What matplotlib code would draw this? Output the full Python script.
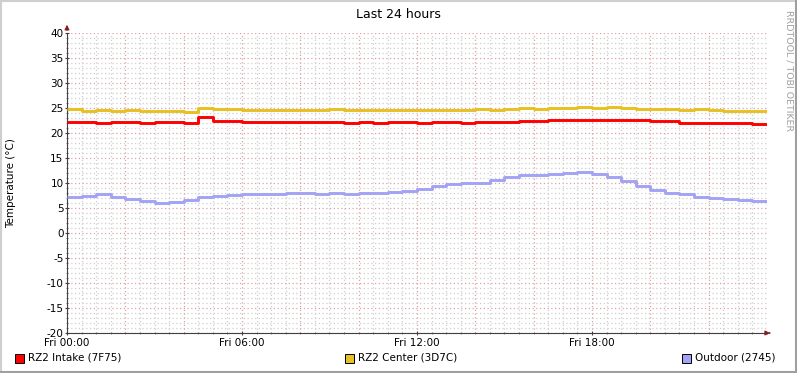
import numpy as np
import matplotlib
matplotlib.use("Agg")
from matplotlib import pyplot as plt
from matplotlib.patches import Rectangle

plt.rcParams["axes.unicode_minus"] = False

# readings every 30 minutes, Fri 00:00 .. Sat 00:00
hours = np.arange(0, 24.01, 0.5)
rz2_intake = [22.2, 22.2, 22.1, 22.2, 22.2, 22.1, 22.2, 22.2, 22.0, 23.2,
              22.5, 22.4, 22.3, 22.3, 22.2, 22.2, 22.2, 22.2, 22.2, 22.1,
              22.2, 22.1, 22.2, 22.2, 22.1, 22.2, 22.2, 22.1, 22.2, 22.2,
              22.3, 22.5, 22.5, 22.6, 22.7, 22.7, 22.7, 22.7, 22.6, 22.6,
              22.5, 22.5, 22.1, 22.0, 22.0, 22.0, 22.0, 21.9, 21.9]
rz2_center = [24.8, 24.5, 24.6, 24.5, 24.6, 24.5, 24.5, 24.5, 24.3, 25.1,
              24.9, 24.8, 24.6, 24.7, 24.6, 24.6, 24.7, 24.6, 24.8, 24.6,
              24.7, 24.6, 24.7, 24.6, 24.6, 24.7, 24.6, 24.7, 24.8, 24.7,
              24.8, 25.0, 24.9, 25.0, 25.1, 25.2, 25.1, 25.2, 25.0, 24.9,
              24.8, 24.8, 24.7, 24.8, 24.6, 24.5, 24.4, 24.5, 24.3]
outdoor = [7.2, 7.5, 7.9, 7.3, 6.8, 6.4, 6.0, 6.2, 6.6, 7.2,
           7.5, 7.7, 7.8, 7.8, 7.9, 8.0, 8.0, 7.9, 8.0, 7.9,
           8.0, 8.1, 8.2, 8.5, 8.9, 9.5, 9.8, 10.0, 10.1, 10.6,
           11.2, 11.6, 11.7, 11.9, 12.1, 12.2, 11.9, 11.3, 10.5, 9.4,
           8.6, 8.0, 7.8, 7.2, 7.0, 6.8, 6.7, 6.4, 6.2]

series = [
    ("RZ2 Intake (7F75)", rz2_intake, "#ff0000"),
    ("RZ2 Center (3D7C)", rz2_center, "#e8c020"),
    ("Outdoor (2745)", outdoor, "#a3a3f5"),
]
xtick_hours = [0, 6, 12, 18]
xtick_labels = ["Fri 00:00", "Fri 06:00", "Fri 12:00", "Fri 18:00"]

W, H = 797, 373
fig = plt.figure(figsize=(W / 100, H / 100), dpi=100)
fig.patch.set_facecolor("white")

# rrdtool style 3D border
fig.add_artist(Rectangle((0, 0), 1, 1, transform=fig.transFigure,
                         fill=False, edgecolor="#cfcfcf", lw=3))
fig.add_artist(Rectangle((0, 0), 1, 2 / H, transform=fig.transFigure,
                         color="#9f9f9f", lw=0))
fig.add_artist(Rectangle((1 - 2 / W, 0), 2 / W, 1, transform=fig.transFigure,
                         color="#9f9f9f", lw=0))

x0, x1, y0, y1 = 67, 767, 33, 333
ax = fig.add_axes([x0 / W, 1 - y1 / H, (x1 - x0) / W, (y1 - y0) / H])
ax.set_xlim(0, 24)
ax.set_ylim(-20, 40)

# grid
for v in np.arange(-20, 41, 1):
    major = v % 5 == 0
    ax.axhline(v, color="#e0a0a0" if major else "#cfcfcf", lw=0.9,
               ls=(0, (1, 2)), zorder=0)
for h in np.arange(0, 24.01, 0.5):
    major = h % 2 == 0
    ax.axvline(h, color="#e0a0a0" if major else "#cfcfcf", lw=0.9,
               ls=(0, (1, 2)), zorder=0)

for name, vals, col in series:
    ax.plot(hours, vals, color=col, lw=2.1, drawstyle="steps-post",
            solid_capstyle="butt", zorder=3)

for s in ["top", "right"]:
    ax.spines[s].set_visible(False)
for s in ["left", "bottom"]:
    ax.spines[s].set_color("#404040")
    ax.spines[s].set_linewidth(0.8)

ax.set_yticks(np.arange(-20, 41, 5))
ax.set_xticks(xtick_hours)
ax.set_xticklabels(xtick_labels)
ax.set_yticks(np.arange(-20, 41, 1), minor=True)
ax.set_xticks(np.arange(0, 24.01, 0.5), minor=True)
ax.tick_params(axis="both", which="major", labelsize=7.5, length=3,
               color="#404040", width=0.8, pad=1, direction="inout")
ax.tick_params(axis="both", which="minor", length=2, color="#808080",
               width=0.6, direction="inout")
ax.tick_params(axis="x", pad=2)

# axis arrows
ax.annotate("", xy=(0, 42.2), xytext=(0, 40), annotation_clip=False,
            arrowprops=dict(arrowstyle="-|>", color="#8b1a1a", lw=0.8,
                            mutation_scale=7))
ax.annotate("", xy=(24.2, -20), xytext=(24, -20), annotation_clip=False,
            arrowprops=dict(arrowstyle="-|>", color="#8b1a1a", lw=0.8,
                            mutation_scale=7))

fig.text(398 / W, 1 - 14 / H, "Last 24 hours", ha="center", va="center",
         fontsize=9)
fig.text(11 / W, 1 - 183 / H, "Temperature (°C)", rotation=90,
         ha="center", va="center", fontsize=7.5)
fig.text(789 / W, 1 - 10 / H, "RRDTOOL / TOBI OETIKER", rotation=270,
         ha="center", va="top", fontsize=6.8, color="#a0a0a0")

# legend
legend_x = [15, 345, 682]
for (name, vals, col), lx in zip(series, legend_x):
    fig.add_artist(Rectangle((lx / W, 1 - 363 / H), 9 / W, 9 / H,
                             transform=fig.transFigure, facecolor=col,
                             edgecolor="black", lw=0.7))
    fig.text((lx + 13) / W, 1 - 358 / H, name, ha="left", va="center",
             fontsize=7.5)

fig.savefig("out.png", dpi=100)
